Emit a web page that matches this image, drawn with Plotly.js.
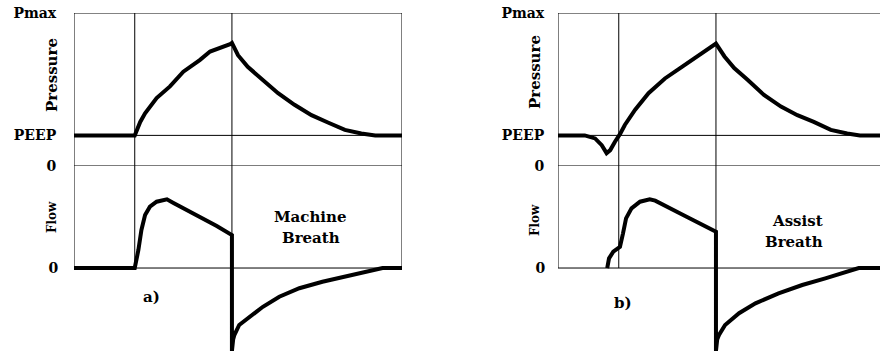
<!DOCTYPE html>
<html>
<head>
<meta charset="utf-8">
<script src="https://cdn.plot.ly/plotly-3.0.1.min.js"></script>
<style>html,body{margin:0;padding:0;overflow:hidden;background:#fff}</style>
</head>
<body>
<div id="chart" style="width:880px;height:351px"></div>
<script>
// ---- data ----
// a) Machine breath
const timeMachineP = [0, 1.0, 1.09, 1.17, 1.36, 1.58, 1.80, 2.07, 2.24, 2.40, 2.57, 2.6, 2.70, 2.86, 3.08, 3.36, 3.63, 3.91, 4.18, 4.46, 4.73, 4.96, 5.4];
const pressureMachine = [5, 5, 7.2, 8.6, 11.1, 13.0, 15.4, 17.3, 18.7, 19.2, 19.9, 20.1, 18.1, 16.2, 14.3, 11.9, 10.0, 8.3, 7.1, 5.9, 5.3, 5, 5];
const timeMachineF = [0, 1.0, 1.06, 1.11, 1.17, 1.25, 1.36, 1.53, 1.63, 2.02, 2.35, 2.6, 2.6, 2.62, 2.64, 2.72, 2.89, 3.11, 3.38, 3.71, 4.09, 4.48, 4.81, 5.08, 5.4];
const flowMachine = [0, 0, 10.6, 22.4, 31.2, 36.1, 39.0, 40.4, 38.4, 31.2, 24.7, 19.4, -48.8, -42, -39.4, -33.5, -28.6, -22.8, -16.9, -11.9, -8.1, -4.7, -2.2, 0, 0];
// b) Assist breath
const timeAssistP = [0, 0.44, 0.61, 0.72, 0.80, 0.86, 0.94, 1.02, 1.10, 1.27, 1.49, 1.76, 2.04, 2.31, 2.56, 2.6, 2.74, 2.90, 3.12, 3.39, 3.67, 3.94, 4.21, 4.49, 4.76, 4.97, 5.3];
const pressureAssist = [5, 5, 4.5, 3.4, 2.1, 2.6, 4.0, 5.2, 6.7, 9.2, 11.9, 14.3, 16.2, 18.1, 19.9, 20.0, 17.9, 16.0, 14.1, 11.6, 9.7, 8.3, 7.2, 5.9, 5.3, 5, 5];
const timeAssistF = [0.81, 0.84, 0.91, 1.02, 1.07, 1.12, 1.21, 1.35, 1.51, 1.60, 2.06, 2.34, 2.6, 2.6, 2.62, 2.65, 2.75, 2.98, 3.25, 3.63, 4.02, 4.40, 4.73, 4.95, 5.3];
const flowAssist = [0, 5.7, 9.6, 12.5, 20.4, 29.2, 35.1, 39.0, 40.4, 39.6, 31.2, 26.3, 21.4, -48.8, -42, -39.4, -33.5, -26.6, -20.8, -14.9, -10.0, -6.1, -2.2, 0, 0];
// axis labels / markers
const pressureTickVals = [0, 5, 25];
const pressureTickText = ['<b>0</b>', '<b>PEEP</b>', '<b>Pmax</b>'];
const flowTickVals = [0];
const flowTickText = ['<b>0</b>'];
const breathMarks = [1.0, 2.6];
const pressureTop = 25;
const flowTop = 60;

// ---- traces ----
const lineStyle = {color: '#000', width: 4};
const traces = [
  {x: timeMachineP, y: pressureMachine, xaxis: 'x', yaxis: 'y', mode: 'lines', line: lineStyle, hoverinfo: 'skip'},
  {x: timeMachineF, y: flowMachine, xaxis: 'x', yaxis: 'y2', mode: 'lines', line: lineStyle, hoverinfo: 'skip'},
  {x: timeAssistP, y: pressureAssist, xaxis: 'x2', yaxis: 'y3', mode: 'lines', line: lineStyle, hoverinfo: 'skip'},
  {x: timeAssistF, y: flowAssist, xaxis: 'x2', yaxis: 'y4', mode: 'lines', line: lineStyle, hoverinfo: 'skip'}
];

// ---- frame / grid shapes ----
const gl = {color: '#000', width: 1};
function panelShapes(xr, yp, yf, xMax, closed) {
  const s = [];
  const h = (y0, yref) => s.push({type: 'line', xref: xr, yref: yref, x0: 0, x1: xMax, y0: y0, y1: y0, line: gl, layer: 'below'});
  const v = (x0, yref, top) => s.push({type: 'line', xref: xr, yref: yref, x0: x0, x1: x0, y0: 0, y1: top, line: gl, layer: 'below'});
  h(pressureTop, yp);
  pressureTickVals.slice(0, 2).forEach(p => h(p, yp));
  h(0, yf);
  const verts = [0].concat(breathMarks);
  if (closed) verts.push(xMax);
  verts.forEach(x => { v(x, yp, pressureTop); v(x, yf, flowTop); });
  return s;
}
const shapes = panelShapes('x', 'y', 'y2', 5.4, true).concat(panelShapes('x2', 'y3', 'y4', 5.3, false));

const tickFont = {family: 'DejaVu Serif, Liberation Serif, serif', size: 14, color: '#000'};
function yAxis(anchor, domain, range, vals, text, len) {
  return {anchor: anchor, domain: domain, range: range, tickvals: vals, ticktext: text,
    ticks: 'outside', ticklen: len, tickcolor: 'rgba(0,0,0,0)', tickfont: tickFont,
    showgrid: false, zeroline: false, showline: false, fixedrange: true};
}
const xHidden = (domain, range) => ({domain: domain, range: range, showgrid: false, zeroline: false,
  showline: false, showticklabels: false, ticks: '', fixedrange: true});

const pDom = [0.5271, 0.963];
const fDom = [0, 0.5271];
const fRange = [-48.8, 60];

const annFont = {family: 'DejaVu Serif, Liberation Serif, serif', size: 15, color: '#000'};
const ann = (text, x, y, extra) => Object.assign({text: text, xref: 'paper', yref: 'paper', x: x / 880, y: 1 - y / 351,
  xanchor: 'center', yanchor: 'middle', showarrow: false, font: annFont}, extra || {});

const layout = {
  width: 880, height: 351,
  margin: {l: 0, r: 0, t: 0, b: 0},
  paper_bgcolor: '#fff', plot_bgcolor: 'rgba(0,0,0,0)',
  showlegend: false,
  xaxis: xHidden([74 / 880, 402 / 880], [0, 5.4]),
  xaxis2: xHidden([558 / 880, 1], [0, 5.3]),
  yaxis: yAxis('x', pDom, [0, pressureTop], pressureTickVals, pressureTickText, 14),
  yaxis2: yAxis('x', fDom, fRange, flowTickVals, flowTickText, 12),
  yaxis3: yAxis('x2', pDom, [0, pressureTop], pressureTickVals, pressureTickText, 10),
  yaxis4: yAxis('x2', fDom, fRange, flowTickVals, flowTickText, 9),
  shapes: shapes,
  annotations: [
    ann('<b>Pressure</b>', 52, 75, {textangle: -90, font: Object.assign({}, annFont, {size: 15})}),
    ann('<b>Flow</b>', 52, 217, {textangle: -90, font: Object.assign({}, annFont, {size: 12})}),
    ann('<b>Pressure</b>', 535, 72, {textangle: -90, font: Object.assign({}, annFont, {size: 15})}),
    ann('<b>Flow</b>', 535, 220, {textangle: -90, font: Object.assign({}, annFont, {size: 12})}),
    ann('<b>Machine</b>', 310, 217),
    ann('<b>Breath</b>', 311, 238),
    ann('<b>Assist</b>', 797, 221),
    ann('<b>Breath</b>', 794, 242),
    ann('<b>a)</b>', 151, 297),
    ann('<b>b)</b>', 623, 303)
  ]
};

Plotly.newPlot('chart', traces, layout, {staticPlot: true, displayModeBar: false});
</script>
</body>
</html>
